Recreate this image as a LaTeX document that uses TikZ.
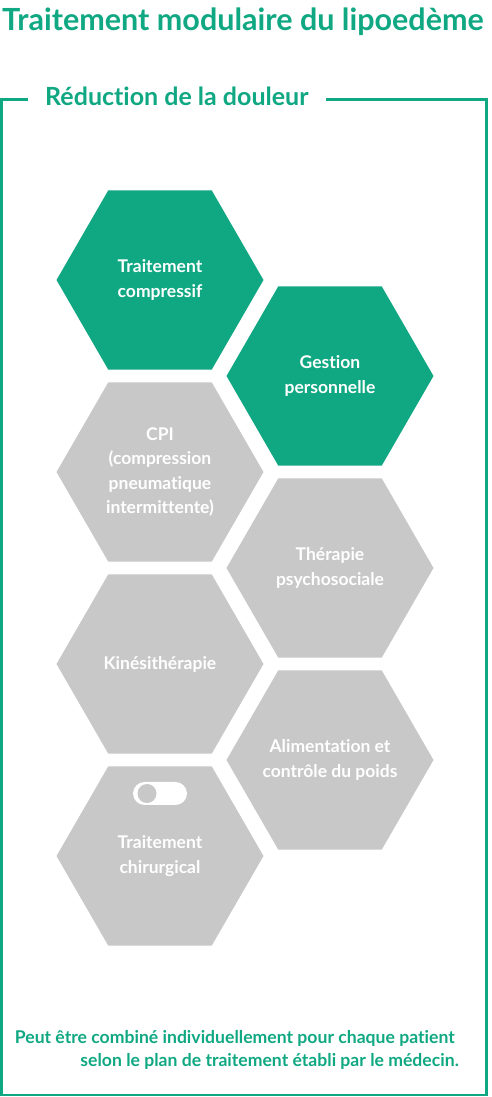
\documentclass[tikz,border=0pt]{standalone}
\usepackage{fontspec}
\setmainfont{Lato}[Ligatures=NoCommon]
\usetikzlibrary{positioning,shapes.geometric}
\definecolor{lipogreen}{RGB}{16,168,130}
\definecolor{lipogray}{RGB}{200,200,200}

\begin{document}
\begin{tikzpicture}[
    x=1pt, y=1pt,
    font=\bfseries\fontsize{17.5}{24.5}\selectfont,
    hexg/.style={
      regular polygon, regular polygon sides=6,
      minimum size=207pt, inner sep=-25pt, outer sep=0pt,
      fill=lipogreen, text=white, align=center
    },
    hexc/.style={hexg, fill=lipogray},
    heading/.style={text=lipogreen, anchor=base west, inner sep=0pt},
    note/.style={text=lipogreen, anchor=base east, inner sep=0pt,
      font=\bfseries\fontsize{17.6}{23}\selectfont},
  ]
    \useasboundingbox (0,0) rectangle (492,-1097);

    %── Title and frame ─────────────────────────────────────────────────
    \node[heading, font=\bfseries\fontsize{30.5}{37}\selectfont] (title) at (2,-31)
      {Traitement modulaire du lipoedème};
    \draw[lipogreen, line width=2.4pt] (1.5,-99.5) rectangle (486.5,-1095);
    \node[heading, fill=white, inner xsep=17pt,
          font=\bfseries\fontsize{25}{30}\selectfont] (subtitle) at (28,-106)
      {Réduction de la douleur};

    %── Left column ─────────────────────────────────────────────────────
    \node[hexg] (compressif) at (160,-280) {Traitement\\compressif};
    \node[hexc, below=12.7pt of compressif] (cpi)
      {CPI\\(compression\\pneumatique\\intermittente)};
    \node[hexc, below=12.7pt of cpi]  (kine) {Kinésithérapie};
    \node[hexc, below=12.7pt of kine] (chir) {Traitement\\chirurgical};

    %── Right column ────────────────────────────────────────────────────
    \node[hexg] (gestion) at (330,-376) {Gestion\\personnelle};
    \node[hexc, below=12.7pt of gestion]  (therapie) {Thérapie\\psychosociale};
    \node[hexc, below=12.7pt of therapie] (alim) {Alimentation et\\contrôle du poids};

    %── Toggle icon ─────────────────────────────────────────────────────
    \node[fill=white, rounded corners=11.5pt, minimum width=54pt,
          minimum height=23pt, inner sep=0pt] (toggle) at ([yshift=62.5pt]chir.center) {};
    \node[circle, fill=lipogray, minimum size=19pt, inner sep=0pt] (knob)
      at ([xshift=-13pt]toggle.center) {};

    %── Note ────────────────────────────────────────────────────────────
    \node[note] (note1) at (455,-1043)
      {Peut être combiné individuellement pour chaque patient};
    \node[note] (note2) at (459,-1066)
      {selon le plan de traitement établi par le médecin.};
\end{tikzpicture}
\end{document}
